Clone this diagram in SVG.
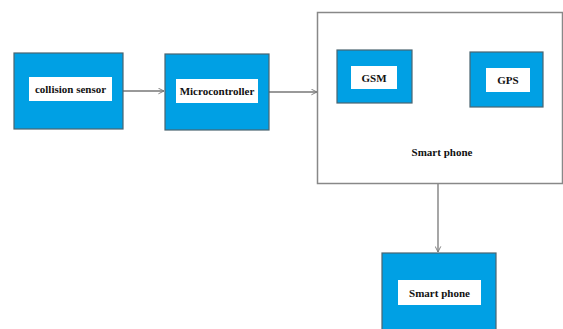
<svg xmlns="http://www.w3.org/2000/svg" width="563" height="329" viewBox="0 0 563 329">
<defs>
<style>
.blk{fill:#00a0e4;stroke:#4a6470;stroke-width:1.2}
.lbl{fill:#ffffff;stroke:none}
.t{font-family:"Liberation Serif",serif;font-weight:bold;font-size:11px;fill:#111;text-anchor:middle;dominant-baseline:central}
.ln{stroke:#777;stroke-width:1.3;fill:none}
</style>
<marker id="ah" viewBox="0 0 10 10" refX="9" refY="5" markerWidth="7" markerHeight="7" orient="auto" markerUnits="userSpaceOnUse">
<path d="M1,1 L9,5 L1,9" fill="none" stroke="#777" stroke-width="1.3"/>
</marker>
</defs>
<rect width="563" height="329" fill="#ffffff"/>
<g id="connectors">
<line class="ln" x1="123" y1="91" x2="164" y2="91" marker-end="url(#ah)"/>
<line class="ln" x1="269" y1="92" x2="317" y2="92" marker-end="url(#ah)"/>
<line class="ln" x1="438" y1="183" x2="438" y2="252" marker-end="url(#ah)"/>
</g>
<g id="collision-sensor">
<rect class="blk" x="14" y="53" width="109" height="76"/>
<rect class="lbl" x="29" y="77" width="83" height="24"/>
<text class="t" x="70.5" y="89">collision sensor</text>
</g>
<g id="microcontroller">
<rect class="blk" x="165" y="54" width="104" height="76"/>
<rect class="lbl" x="176" y="79" width="82" height="24"/>
<text class="t" x="217" y="91">Microcontroller</text>
</g>
<g id="smart-phone-container">
<rect x="317.5" y="12.5" width="245" height="171" fill="#fff" stroke="#888" stroke-width="1.5"/>
<text class="t" x="442" y="152">Smart phone</text>
</g>
<g id="gsm">
<rect class="blk" x="337" y="50" width="75" height="53"/>
<rect class="lbl" x="351" y="66" width="46" height="23"/>
<text class="t" x="374" y="77.5">GSM</text>
</g>
<g id="gps">
<rect class="blk" x="470" y="52" width="73" height="55"/>
<rect class="lbl" x="486" y="68" width="44" height="24"/>
<text class="t" x="508" y="80">GPS</text>
</g>
<g id="smart-phone">
<rect class="blk" x="382" y="253" width="114" height="80"/>
<rect class="lbl" x="398" y="280" width="83" height="25"/>
<text class="t" x="439.5" y="292.5">Smart phone</text>
</g>
</svg>
